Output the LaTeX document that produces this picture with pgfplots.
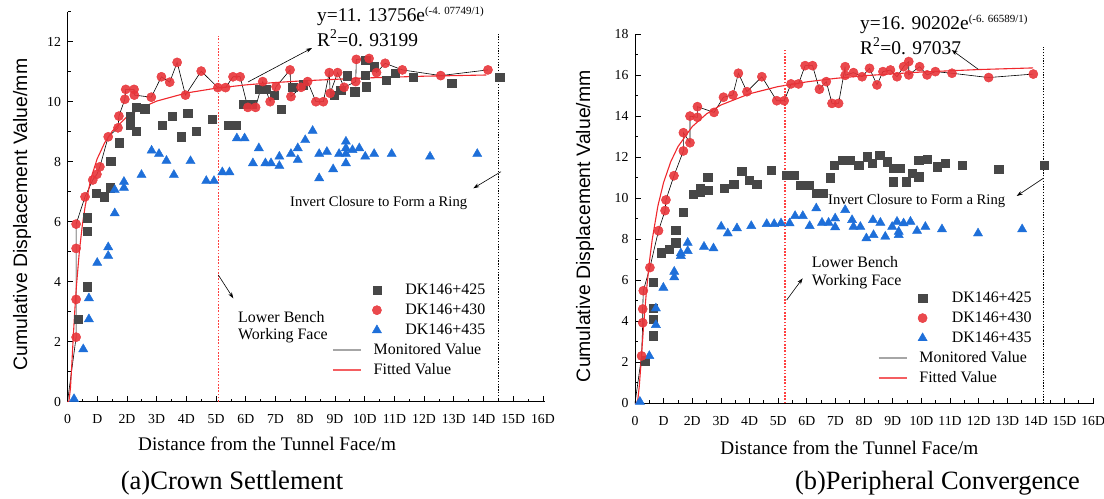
\documentclass[border=0pt]{standalone}
\usepackage{fontspec}
\setmainfont{Liberation Serif}
\setsansfont{Liberation Sans}
\usepackage{pgfplots}
\usepackage{pgfplotstable}
\pgfplotsset{compat=1.18}
\usetikzlibrary{arrows.meta}
\definecolor{cgray}{HTML}{474747}
\definecolor{cred}{HTML}{E8353A}
\definecolor{cblue}{HTML}{1E6FD9}
\definecolor{cfit}{HTML}{F0282D}
\definecolor{cdot}{HTML}{FF4040}
\newcommand{\fs}[1]{\fontsize{#1}{#1}\selectfont}
\tikzset{
  reddot/.style={color=cdot, line width=1.3bp, dash pattern=on 1.6bp off 1.6bp},
  blkdot/.style={color=black, line width=0.9bp, dash pattern=on 1.3bp off 1.5bp},
}

% ---------- (a) Crown settlement ----------
\pgfplotstableread{
x y
0.36 2.75
0.66 3.83
0.66 5.69
0.66 6.13
0.96 6.95
1.24 6.83
1.43 7.13
1.46 8.02
1.74 8.63
2.10 9.22
2.10 9.52
2.32 9.02
2.32 9.81
2.60 9.76
3.18 9.22
3.53 9.52
3.83 8.83
4.05 9.61
4.34 9.02
4.87 9.42
5.40 9.22
5.68 9.22
5.93 9.92
6.20 9.92
6.46 10.41
6.68 10.41
6.96 10.22
7.19 9.75
7.58 10.48
7.93 10.56
8.98 10.22
9.20 10.39
9.42 10.86
9.67 10.33
10.02 10.89
10.06 10.50
10.04 11.39
10.32 11.17
10.73 10.72
11.02 10.95
11.63 10.81
12.93 10.61
14.54 10.81
}\sqA
\pgfplotstableread{
x y
0 0
0.29 2.15
0.29 3.41
0.29 5.11
0.29 5.92
0.59 6.83
0.85 7.39
0.99 7.58
1.09 7.83
1.37 8.83
1.70 9.13
1.73 9.52
1.93 10.08
1.96 10.41
2.24 10.41
2.25 10.22
2.82 10.15
3.16 10.83
3.44 10.65
3.69 11.31
3.97 10.22
4.50 11.02
5.06 10.47
5.32 10.47
5.57 10.83
5.81 10.83
6.07 9.81
6.33 9.81
6.57 10.67
6.82 10.00
7.02 10.50
7.49 11.06
7.52 10.17
7.86 10.48
8.08 10.67
8.36 10.00
8.61 10.00
8.81 10.97
8.84 10.28
9.09 10.97
9.31 10.48
9.70 10.67
9.72 11.41
10.15 11.44
10.40 10.97
10.69 11.28
11.27 11.06
12.56 10.87
14.15 11.06
}\ciA
\pgfplotstableread{
x y
0.22 0.09
0.53 1.75
0.72 2.75
0.72 3.45
1.00 4.63
1.37 4.86
1.37 5.15
1.59 6.28
1.59 7.06
1.90 7.13
1.90 7.33
2.49 7.56
2.83 8.37
3.08 8.26
3.33 8.03
3.58 7.56
4.14 8.02
4.67 7.36
4.93 7.36
5.21 7.65
5.45 7.65
5.70 8.78
5.96 8.78
6.24 7.95
6.44 8.45
6.66 7.95
6.85 7.95
7.13 8.17
7.13 7.86
7.52 8.26
7.75 8.45
7.75 8.06
8.00 8.72
8.25 9.03
8.47 8.26
8.47 7.45
8.73 8.33
8.94 7.75
9.14 8.26
9.37 8.67
9.37 8.45
9.37 8.26
9.37 7.95
9.59 8.39
9.82 8.45
10.02 8.17
10.32 8.26
10.91 8.26
12.20 8.17
13.79 8.26
}\trA
\pgfplotstableread{
x y
0 0
0.05 0.02
0.10 0.46
0.15 1.33
0.20 2.26
0.25 3.11
0.30 3.85
0.40 5.02
0.50 5.89
0.60 6.55
0.80 7.48
1.00 8.10
1.25 8.63
1.50 9.01
2.00 9.50
2.50 9.80
3.00 10.02
4.00 10.29
5.00 10.45
6.00 10.56
7.00 10.64
8.00 10.70
10.00 10.79
12.00 10.85
14.10 10.89
}\fitA

% ---------- (b) Peripheral convergence ----------
\pgfplotstableread{
x y
0.35 2.08
0.64 3.30
0.64 4.11
0.64 4.63
0.64 5.90
0.91 7.35
1.19 7.51
1.42 7.83
1.42 8.45
1.69 9.32
2.04 10.21
2.27 10.32
2.27 10.49
2.54 10.40
2.54 11.02
3.11 10.49
3.44 10.68
3.73 11.33
3.99 10.89
4.25 10.68
4.76 11.38
5.30 11.14
5.56 11.14
5.79 10.65
6.06 10.65
6.33 10.24
6.58 10.24
6.82 11.00
6.96 11.62
7.23 11.87
7.52 11.87
7.81 11.62
8.10 12.03
8.28 11.71
8.54 12.11
8.80 11.79
9.01 11.46
9.01 10.81
9.27 11.46
9.48 10.81
9.67 11.22
9.91 11.05
9.91 11.87
10.20 11.90
10.55 11.54
10.84 11.71
11.42 11.62
12.70 11.41
14.28 11.62
}\sqB
\pgfplotstableread{
x y
0 0
0.23 2.31
0.27 3.93
0.27 4.60
0.29 5.49
0.52 6.62
0.82 8.42
1.05 9.40
1.08 9.92
1.36 11.10
1.69 12.31
1.69 13.20
1.92 12.71
1.92 14.01
2.18 13.95
2.18 14.47
2.76 14.19
3.09 14.93
3.42 15.04
3.61 16.10
3.91 15.20
4.43 15.93
4.95 14.76
5.21 14.76
5.45 15.58
5.71 15.58
5.94 16.47
6.20 16.47
6.44 15.32
6.68 15.69
6.88 14.63
7.11 14.63
7.34 16.42
7.34 16.00
7.63 16.13
7.93 15.93
8.19 16.34
8.45 15.53
8.66 16.18
8.92 16.26
9.15 15.93
9.38 16.42
9.56 16.67
9.56 16.02
9.94 16.42
10.20 16.02
10.49 16.18
11.07 16.10
12.35 15.89
13.91 16.06
}\ciB
\pgfplotstableread{
x y
0.17 0.08
0.50 2.31
0.73 3.82
0.73 4.63
0.99 5.64
1.37 6.15
1.37 6.42
1.60 7.19
1.60 7.32
1.84 7.43
1.84 7.83
2.41 7.64
2.74 7.56
3.01 8.62
3.24 8.29
3.56 8.54
4.06 8.65
4.60 8.75
4.86 8.75
5.10 8.78
5.40 8.78
5.59 9.14
5.86 9.14
6.10 8.65
6.33 9.51
6.53 8.81
6.76 8.81
6.99 9.02
6.99 8.59
7.34 9.43
7.58 8.94
7.63 8.61
7.87 8.61
8.08 8.05
8.31 8.94
8.33 8.21
8.57 8.81
8.74 8.13
8.98 8.61
9.15 8.86
9.21 8.37
9.21 8.21
9.38 8.78
9.62 8.86
9.85 8.41
10.14 8.61
10.72 8.49
11.98 8.29
13.52 8.49
}\trB
\pgfplotstableread{
x y
0 0
0.05 0.00
0.10 0.19
0.15 0.84
0.20 1.78
0.25 2.79
0.30 3.77
0.40 5.49
0.50 6.87
0.60 7.98
0.80 9.63
1.00 10.78
1.25 11.79
1.50 12.52
2.00 13.50
2.50 14.12
3.00 14.55
4.00 15.10
5.00 15.45
6.00 15.68
7.00 15.85
8.00 15.98
10.00 16.16
12.00 16.28
13.90 16.36
}\fitB

\pgfplotsset{
  base/.style={
    scale only axis, anchor=south west, clip=false,
    axis lines*=left,
    axis line style={line width=1bp, black},
    tick align=inside,
    xtick pos=bottom, ytick pos=left,
    major tick length=5.5bp, minor tick length=3bp,
    every tick/.append style={black, line width=0.8bp},
    xmin=0, ymin=0,
    xtick={0,...,16},
    xticklabels={0,D,2D,3D,4D,5D,6D,7D,8D,9D,10D,11D,12D,13D,14D,15D,16D},
    minor xtick={0.5,1.5,...,15.5},
    tick label style={font=\fs{13.8}},
    xticklabel style={yshift=-9.5bp},
    yticklabel style={xshift=-3bp},
    /pgf/number format/assume math mode=true,
    xlabel={Distance from the Tunnel Face/m},
    ylabel={Cumulative Displacement Value/mm},
    xlabel style={font=\fs{19.3}, anchor=center},
    ylabel style={font=\sffamily\fs{19.5}, anchor=center},
    legend cell align=left,
    legend style={draw=none, fill=none, anchor=north west, font=\fs{16},
      row sep=6bp, column sep=12bp,
      nodes={inner sep=0bp, text height=11bp, text depth=3bp}},
  },
  sqs/.style={only marks, mark=square*, mark size=4.2bp, mark options={draw=cgray, fill=cgray}},
  cis/.style={only marks, mark=*, mark size=4.6bp, mark options={draw=cred, fill=cred, fill opacity=0.9}},
  trs/.style={only marks, mark=triangle*, mark size=5.3bp, mark options={draw=cblue, fill=cblue}},
  monl/.style={black, line width=0.6bp},
  fitl/.style={cfit, line width=1.1bp},
  markleg/.style={legend image code/.code={\path[draw=none,fill=none] (0bp,-3bp) rectangle (28bp,3bp); \draw[##1,overlay] plot coordinates {(44bp,0bp)};}},
  lineleg/.style={legend image code/.code={\draw[##1] (0bp,0bp) -- (28bp,0bp);}},
}

\begin{document}
\begin{tikzpicture}
\path[use as bounding box] (0,0) rectangle (1104bp,499bp);

\begin{axis}[base,
  at={(67.5bp,97.3bp)}, width=477.5bp, height=390bp,
  xmax=16.07, ymax=13,
  ytick={0,2,...,12}, minor ytick={1,3,...,13},
  xlabel style={at={(axis description cs:0.418,-0.108)}},
  ylabel style={at={(axis description cs:-0.0953,0.48)}},
  legend style={at={(axis description cs:0.5475,0.3095)}},
]
\addplot[sqs, forget plot] table {\sqA};
\addplot[trs, forget plot] table {\trA};
\addplot[cis, forget plot, skip coords between index={0}{1}] table {\ciA};
\addplot[monl, forget plot] table {\ciA};
\addplot[fitl, forget plot] table {\fitA};
\addplot[reddot, forget plot] coordinates {(5.075,0) (5.075,12.19)};
\addplot[blkdot, forget plot] coordinates {(14.5,0) (14.5,12.29)};
\addlegendimage{sqs, markleg}\addlegendentry{\hspace{31.7bp}DK146+425}
\addlegendimage{cis, markleg}\addlegendentry{\hspace{31.7bp}DK146+430}
\addlegendimage{trs, markleg}\addlegendentry{\hspace{31.7bp}DK146+435}
\addlegendimage{gray!70, line width=1.6bp, lineleg}\addlegendentry{Monitored Value}
\addlegendimage{cfit!75, line width=1.6bp, lineleg}\addlegendentry{Fitted Value}
\end{axis}

\begin{axis}[base,
  at={(635bp,95.7bp)}, width=459bp, height=369bp,
  xmax=16.03, ymax=18,
  ytick={0,2,...,18}, minor ytick={1,3,...,17},
  xlabel style={at={(axis description cs:0.467,-0.121)}},
  ylabel style={at={(axis description cs:-0.109,0.48)}},
  legend style={at={(axis description cs:0.522,0.31)}},
]
\addplot[sqs, forget plot] table {\sqB};
\addplot[trs, forget plot] table {\trB};
\addplot[cis, forget plot, skip coords between index={0}{1}] table {\ciB};
\addplot[monl, forget plot] table {\ciB};
\addplot[fitl, forget plot] table {\fitB};
\addplot[reddot, forget plot] coordinates {(5.24,0) (5.24,17.28)};
\addplot[blkdot, forget plot] coordinates {(14.26,0) (14.26,17.4)};
\addlegendimage{sqs, markleg}\addlegendentry{\hspace{32.4bp}DK146+425}
\addlegendimage{cis, markleg}\addlegendentry{\hspace{32.4bp}DK146+430}
\addlegendimage{trs, markleg}\addlegendentry{\hspace{32.4bp}DK146+435}
\addlegendimage{gray!70, line width=1.6bp, lineleg}\addlegendentry{Monitored Value}
\addlegendimage{cfit!75, line width=1.6bp, lineleg}\addlegendentry{Fitted Value}
\end{axis}

\begin{scope}[x=1bp,y=1bp]
% annotations (a)
\node[anchor=base west, inner sep=0pt, font=\fs{19.5}] at (317,477.6) {y=11. 13756e\raisebox{7bp}{\fs{11}(-4. 07749/1)}};
\node[anchor=base west, inner sep=0pt, font=\fs{19.5}] at (317,452.6) {R\textsuperscript{2}=0. 93199};
\draw[-{Stealth[length=6bp,width=4bp]}, line width=0.6bp] (248,417) -- (312,451);
\node[anchor=base west, inner sep=0pt, font=\fs{16}] at (238,176.7) {Lower Bench};
\node[anchor=base west, inner sep=0pt, font=\fs{16}] at (238,159.7) {Working Face};
\draw[-{Stealth[length=6bp,width=4bp]}, line width=0.6bp] (218.3,224) -- (233.3,200.7);
\node[anchor=base west, inner sep=0pt, font=\fs{14.7}] at (290,292.5) {Invert Closure to Form a Ring};
\draw[-{Stealth[length=6bp,width=4bp]}, line width=0.6bp] (501,327.3) -- (473.3,310.7);
% annotations (b)
\node[anchor=base west, inner sep=0pt, font=\fs{19.5}] at (860,469.6) {y=16. 90202e\raisebox{7bp}{\fs{11}(-6. 66589/1)}};
\node[anchor=base west, inner sep=0pt, font=\fs{19.5}] at (860,444.6) {R\textsuperscript{2}=0. 97037};
\draw[-{Stealth[length=6bp,width=4bp]}, line width=0.6bp] (978.3,429.7) -- (951.7,449);
\node[anchor=base west, inner sep=0pt, font=\fs{14.7}] at (828,294.2) {Invert Closure to Form a Ring};
\draw[-{Stealth[length=6bp,width=4bp]}, line width=0.6bp] (1043.3,320.7) -- (1016.7,303);
\node[anchor=base west, inner sep=0pt, font=\fs{16}] at (811.7,232) {Lower Bench};
\node[anchor=base west, inner sep=0pt, font=\fs{16}] at (811.7,213.7) {Working Face};
\draw[-{Stealth[length=6bp,width=4bp]}, line width=0.6bp] (786.7,199) -- (802.7,220.7);
% captions
\node[anchor=base, inner sep=0pt, font=\fs{26.7}] at (232,10) {(a)Crown Settlement};
\node[anchor=base, inner sep=0pt, font=\fs{26.5}] at (937.5,10) {(b)Peripheral Convergence};
\end{scope}
\end{tikzpicture}
\end{document}
